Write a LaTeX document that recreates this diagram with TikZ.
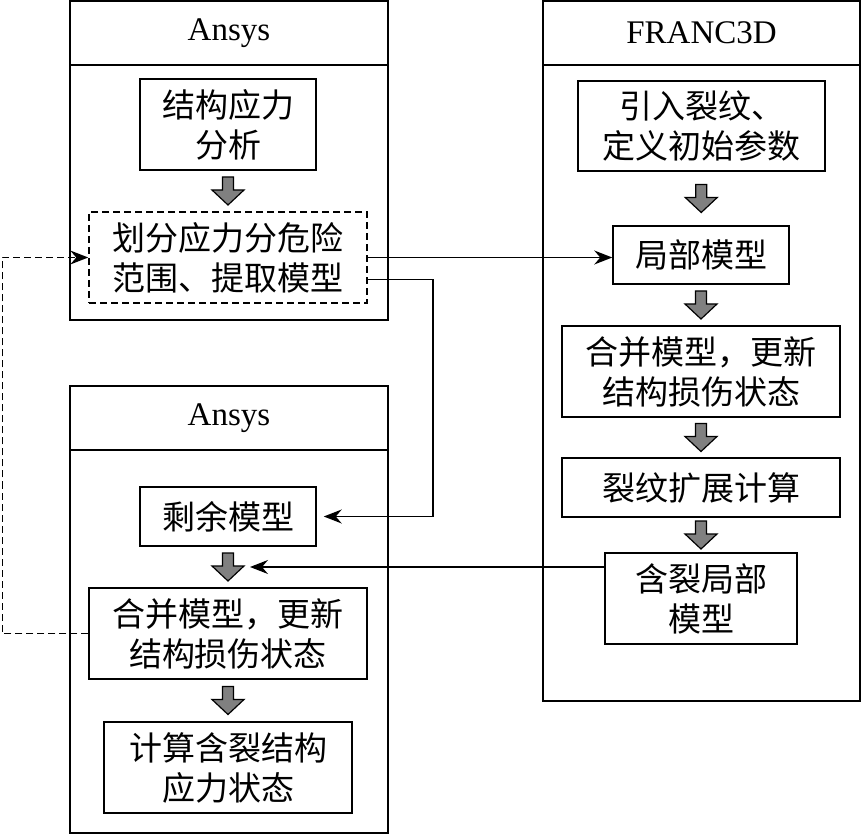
\documentclass[tikz,border=0pt]{standalone}
\usepackage{fontspec}
\setmainfont{Liberation Serif}
\newfontfamily\cjk{Noto Sans CJK SC}
\usetikzlibrary{arrows.meta,positioning,calc}

\begin{document}
\begin{tikzpicture}[x=1pt,y=-1pt,
  panel/.style={draw,line width=1.5pt,inner sep=0},
  title/.style={draw,line width=1.5pt,inner sep=0,anchor=north,minimum height=64,font=\fontsize{33}{38}\selectfont},
  stepbox/.style={draw,line width=1.5pt,inner sep=0,align=center,font=\cjk\fontsize{33}{40}\selectfont},
  dashbox/.style={stepbox,dash pattern=on 7pt off 4pt},
  link/.style={line width=1.4pt,-{Stealth[length=18pt,width=14pt,inset=6pt]}},
  grayarrow/.pic={\draw[line width=1.2pt,fill=gray] (-5.5,-14) -- (5.5,-14) -- (5.5,-1) -- (16,-1) -- (0,14) -- (-16,-1) -- (-5.5,-1) -- cycle;}]
\useasboundingbox (0,0) rectangle (863,834);
\node[panel,minimum width=318,minimum height=319] (p1) at (229,160.5) {};
\node[title,minimum width=318] (t1) at (p1.north) {Ansys};
\node[panel,minimum width=318,minimum height=447] (p2) at (229,609.5) {};
\node[title,minimum width=318] (t2) at (p2.north) {Ansys};
\node[panel,minimum width=317,minimum height=700] (p3) at (701.5,351) {};
\node[title,minimum width=317] (t3) at (p3.north) {FRANC3D};

\node[stepbox,minimum width=176,minimum height=91] (a1) at (228,124.5) {结构应力\\分析};
\node[dashbox,minimum width=278,minimum height=91] (a2) at (228,257.5) {划分应力分危险\\范围、提取模型};
\node[stepbox,minimum width=176,minimum height=59] (b1) at (228,516.5) {剩余模型};
\node[stepbox,minimum width=278,minimum height=91] (b2) at (228,633.5) {合并模型，更新\\结构损伤状态};
\node[stepbox,minimum width=248,minimum height=91] (b3) at (228,767.5) {计算含裂结构\\应力状态};

\node[stepbox,minimum width=247,minimum height=90] (c1) at (701.5,126) {引入裂纹、\\定义初始参数};
\node[stepbox,minimum width=176,minimum height=58] (c2) at (701,255) {局部模型};
\node[stepbox,minimum width=278,minimum height=91] (c3) at (701,371.5) {合并模型，更新\\结构损伤状态};
\node[stepbox,minimum width=278,minimum height=59] (c4) at (701,487.5) {裂纹扩展计算};
\node[stepbox,minimum width=192,minimum height=91] (c5) at (701,598.5) {含裂局部\\模型};

\coordinate (g1) at ($(a1.south)!.5!(a2.north)$);
\coordinate (g2) at ($(b1.south)!.5!(b2.north)$);
\coordinate (g3) at ($(b2.south)!.5!(b3.north)$);
\coordinate (g4) at ($(c1.south)!.5!(c2.north)$);
\coordinate (g5) at ($(c2.south)!.5!(c3.north)$);
\coordinate (g6) at ($(c3.south)!.5!(c4.north)$);
\coordinate (g7) at ($(c4.south)!.5!(c5.north)$);
\foreach \g in {g1,g2,g3,g4,g5,g6,g7}
  \pic at (\g) {grayarrow};

\coordinate (r1) at (433,0);
\draw[link] (a2.east) -- (c2.west |- a2.east);
\draw[link,shorten >=7pt] ([yshift=-22pt]a2.east) -| (r1 |- b1.east) -- (b1.east);
\draw[link] (c5.west |- g2) -- ([xshift=22pt]g2);
\draw[link,dash pattern=on 7pt off 4pt] (b2.west) -- ++(-86,0) |- (a2.west);
\end{tikzpicture}
\end{document}
